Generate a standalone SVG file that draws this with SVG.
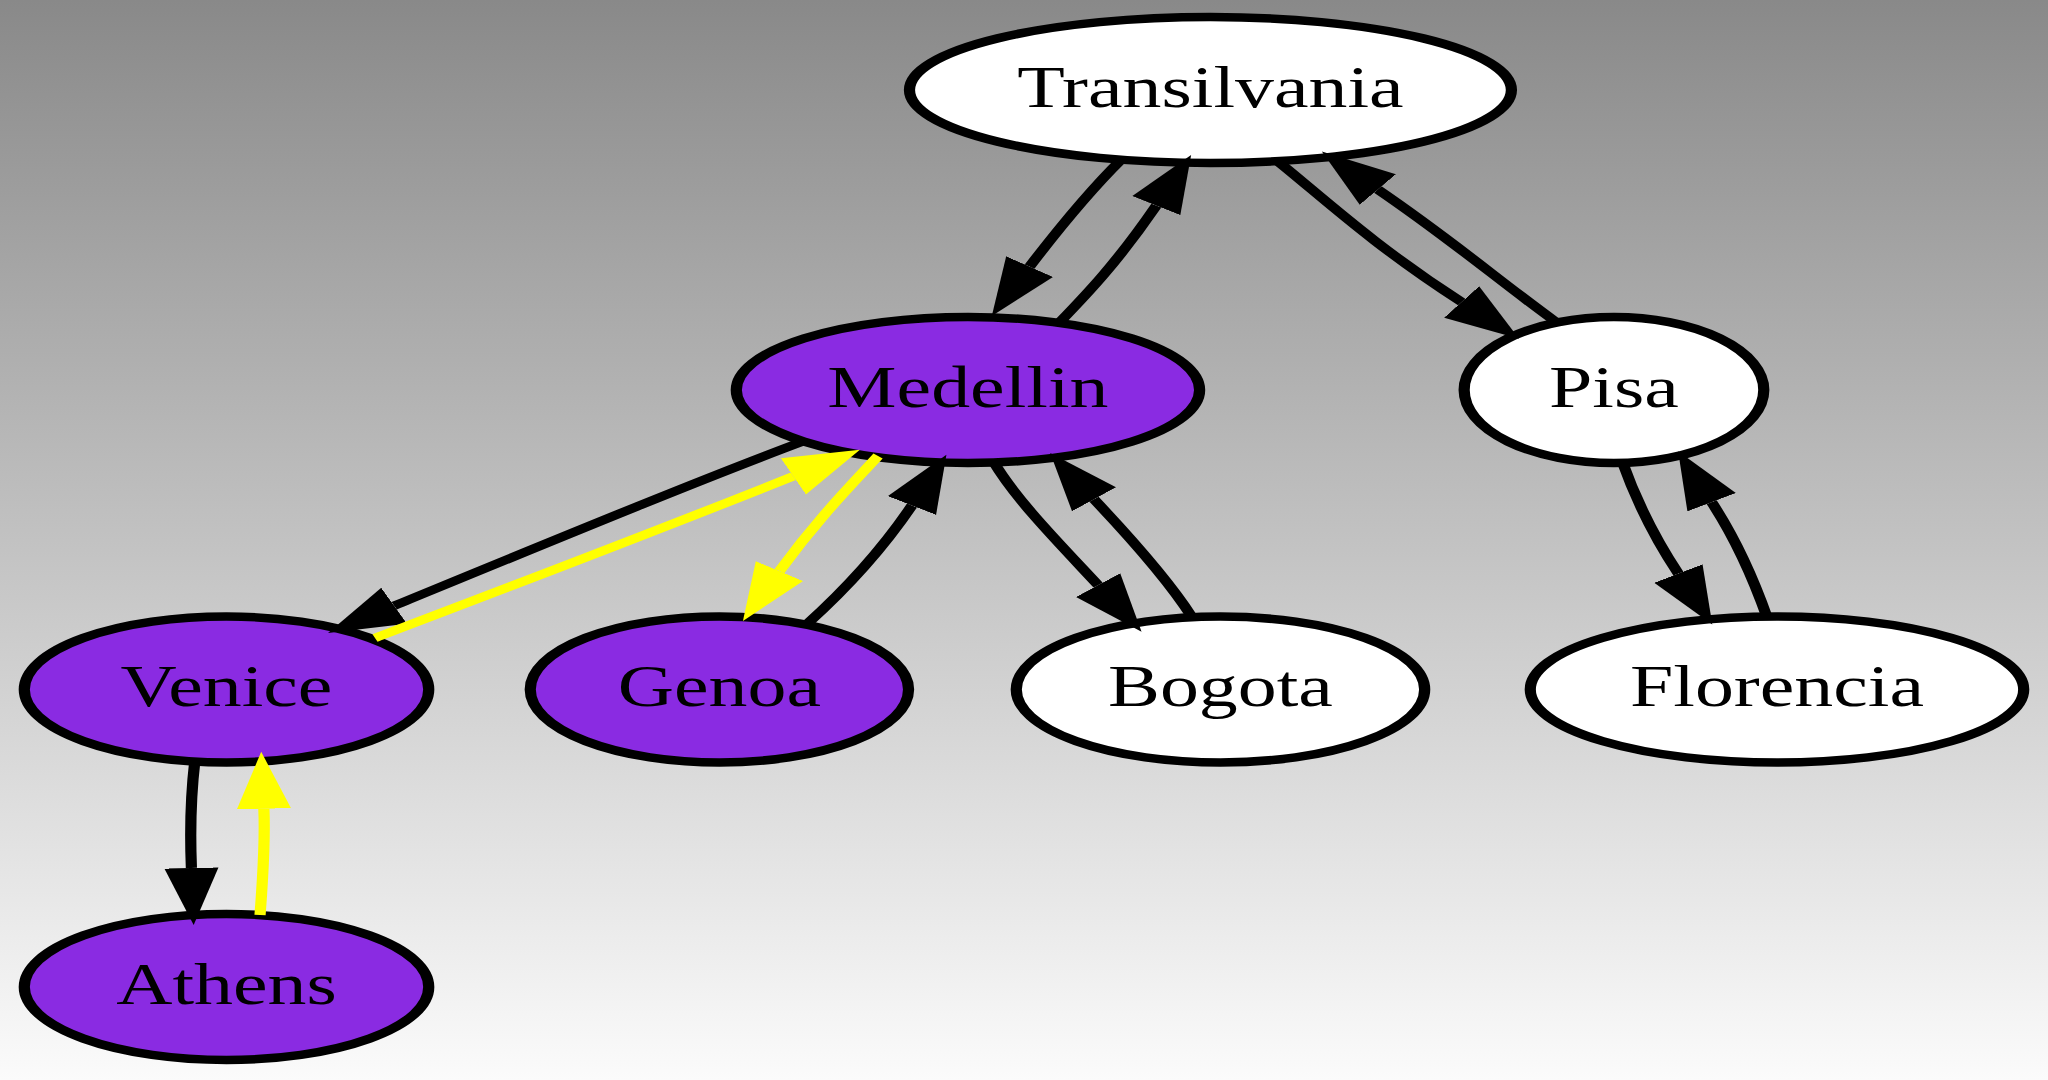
<svg xmlns="http://www.w3.org/2000/svg" width="2048" height="1080" viewBox="0 0 2048 1080">
<defs>
<linearGradient id="bg" x1="0" y1="0" x2="0" y2="1">
<stop offset="0" stop-color="#898989"/>
<stop offset="1" stop-color="#fbfbfb"/>
</linearGradient>
<marker id="ahk" markerUnits="userSpaceOnUse" markerWidth="58" markerHeight="42" viewBox="0 0 58 42" refX="0" refY="21" orient="auto">
<path d="M0,0.5 L57,21 L0,41.5 z" fill="#000"/>
</marker>
<marker id="ahy" markerUnits="userSpaceOnUse" markerWidth="58" markerHeight="42" viewBox="0 0 58 42" refX="0" refY="21" orient="auto">
<path d="M0,0.5 L57,21 L0,41.5 z" fill="#ffff00"/>
</marker>
</defs>
<style>
.node ellipse{stroke:#000;stroke-width:8.5}
.white{fill:#fff}
.purple{fill:#8a2be2}
.node text{font-family:"Liberation Serif","Times New Roman",serif;font-size:59px;text-anchor:middle;fill:#000}
.e{fill:none;stroke-width:8.5}
.k{stroke:#000;marker-end:url(#ahk)}
.y{stroke:#ffff00;marker-end:url(#ahy)}
</style>
<rect x="0" y="0" width="2048" height="1080" fill="url(#bg)"/>
<g id="graph" transform="scale(1.32,1)">
<g id="n_transilvania" class="node"><ellipse class="white" cx="917" cy="90" rx="228" ry="73"/><text x="917" y="107">Transilvania</text></g>
<g id="n_medellin" class="node"><ellipse class="purple" cx="733.3" cy="390" rx="175.5" ry="73"/><text x="733.3" y="407">Medellin</text></g>
<g id="n_pisa" class="node"><ellipse class="white" cx="1222.7" cy="390" rx="113.5" ry="73"/><text x="1222.7" y="407">Pisa</text></g>
<g id="n_venice" class="node"><ellipse class="purple" cx="171.6" cy="689.5" rx="153.2" ry="73"/><text x="171.6" y="706">Venice</text></g>
<g id="n_genoa" class="node"><ellipse class="purple" cx="545" cy="689.5" rx="143.3" ry="73"/><text x="545" y="706">Genoa</text></g>
<g id="n_bogota" class="node"><ellipse class="white" cx="924.6" cy="689.5" rx="154.7" ry="73"/><text x="924.6" y="706">Bogota</text></g>
<g id="n_florencia" class="node"><ellipse class="white" cx="1346.2" cy="689.5" rx="186.9" ry="73"/><text x="1346.2" y="706">Florencia</text></g>
<g id="n_athens" class="node"><ellipse class="purple" cx="171.6" cy="987" rx="153.2" ry="73"/><text x="171.6" y="1004">Athens</text></g>
<g id="edges">
<path class="e k" d="M849.2,160 C830,185 810,215 780,266.6"/>
<path class="e k" d="M801.5,324 C822,296 845,265 876,205.6"/>
<path class="e k" d="M966.7,160 C1000,195 1040,245 1107.3,302"/>
<path class="e k" d="M1178.8,322 C1135,280 1100,240 1043.8,189.5"/>
<path class="e k" d="M609.1,441 C530,480 420,540 298.6,605.8"/>
<path class="e y" d="M284.1,638 C360,600 480,540 601,476.3"/>
<path class="e y" d="M665.2,456 C645,485 620,518 590.5,571.1"/>
<path class="e k" d="M611.4,624 C640,590 668,550 690.9,505.5"/>
<path class="e k" d="M752.3,461 C770,500 800,540 831.9,585.1"/>
<path class="e k" d="M903,617 C885,580 858,540 828.8,499.3"/>
<path class="e k" d="M1228.8,461 C1238,495 1252,535 1271.5,573.6"/>
<path class="e k" d="M1338.6,617 C1330,585 1318,545 1296.7,502.2"/>
<path class="e k" d="M147.7,760 C144.5,795 144,835 145,868"/>
<path class="e y" d="M197,915 C199,880 201,840 199.9,808.8"/>
</g>
</g>
</svg>
